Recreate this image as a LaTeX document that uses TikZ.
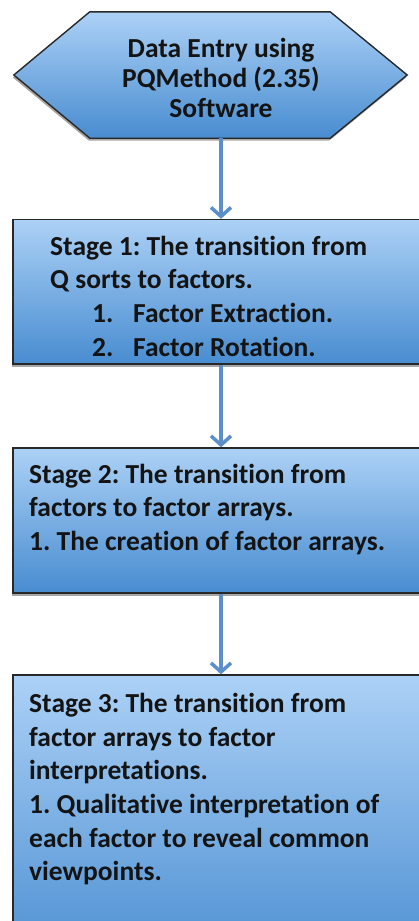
\documentclass[tikz,border=0pt]{standalone}
\usepackage{fontspec}
\setmainfont{Carlito}[Ligatures=NoCommon]
\usetikzlibrary{arrows.meta,shadows}
\definecolor{topblue}{RGB}{172,209,246}
\definecolor{botblue}{RGB}{72,140,208}
\definecolor{arrowblue}{RGB}{91,143,201}
\definecolor{edgegray}{RGB}{40,40,40}
\definecolor{textdark}{RGB}{20,20,20}
\frenchspacing
\begin{document}
\begin{tikzpicture}[x=1pt,y=-1pt,
  boxshade/.style={top color=topblue,bottom color=botblue,draw=edgegray,line width=1.4pt,
    drop shadow={shadow xshift=-1pt,shadow yshift=-2.5pt,opacity=0.35,fill=black}},
  stagebox/.style={boxshade,rectangle,minimum width=416pt,inner sep=0pt},
  stagetext/.style={anchor=north west,inner sep=0pt,align=left,text=textdark,
    font=\fontsize{27.5}{33.7}\selectfont\bfseries},
  hextext/.style={inner sep=0pt,align=center,text=textdark,
    font=\fontsize{27.5}{30}\selectfont\bfseries},
  arr/.style={draw=arrowblue,line width=4pt,-{Straight Barb[length=9pt,width=20pt,line width=3.5pt]}}]
\useasboundingbox (0,0) rectangle (419,921);
\clip (0,0) rectangle (419,921);
% hexagon
\node[minimum width=393pt,minimum height=126pt,inner sep=0pt] (hex) at (210.5,75) {};
\shadedraw[boxshade,line join=miter]
  (hex.west) -- ([xshift=76pt]hex.north west) -- ([xshift=-77pt]hex.north east) --
  (hex.east) -- ([xshift=-77pt]hex.south east) -- ([xshift=76pt]hex.south west) -- cycle;
\node[hextext] (hext) at (221,78) {Data Entry using\\PQMethod (2.35)\\Software};
% boxes
\node[stagebox,minimum height=144.5pt] (box1) at (221,291.75) {};
\node[stagebox,minimum height=145pt] (box2) at (221,520.5) {};
\node[stagebox,minimum height=300pt] (box3) at (221,825) {};
\node[stagetext] (t1) at (50,231.5) {\strut Stage 1: The transition from\\Q sorts to factors.\\
  \hspace*{42pt}\makebox[41pt][l]{1.}Factor Extraction.\\
  \hspace*{42pt}\makebox[41pt][l]{2.}Factor Rotation.};
\node[stagetext] (t2) at (29,459.5) {\strut Stage 2: The transition from\\factors to factor arrays.\\1. The creation of factor arrays.};
\node[stagetext] (t3) at (29,688.5) {\strut Stage 3: The transition from\\factor arrays to factor\\interpretations.\\1. Qualitative interpretation of\\each factor to reveal common\\viewpoints.};
% arrows
\draw[arr] (hex.south -| box1.north) -- (box1.north);
\draw[arr] (box1.south) -- (box2.north);
\draw[arr] (box2.south) -- (box3.north);
\end{tikzpicture}
\end{document}
